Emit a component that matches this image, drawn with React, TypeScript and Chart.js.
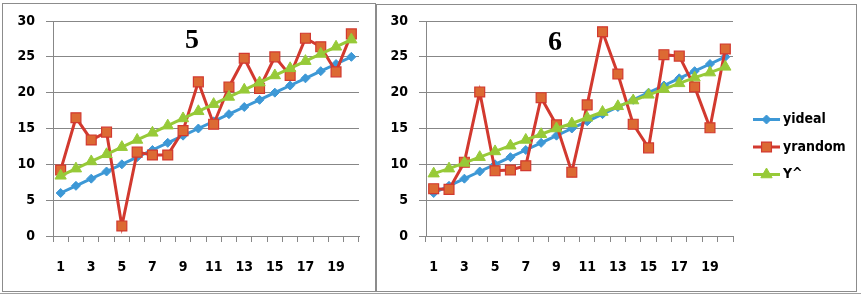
import React, { useEffect, useRef } from 'react';
import { Chart, registerables } from 'chart.js';

Chart.register(...registerables);

// ---- data ----
const categories = ['1', '2', '3', '4', '5', '6', '7', '8', '9', '10', '11', '12', '13', '14', '15', '16', '17', '18', '19', '20'];
const seriesNames = ['yideal', 'yrandom', 'Y^'];
const panelTitles = ['5', '6'];

const yIdeal5 = [6, 7, 8, 9, 10, 11, 12, 13, 14, 15, 16, 17, 18, 19, 20, 21, 22, 23, 24, 25];
const yRandom5 = [9.2, 16.5, 13.4, 14.5, 1.4, 11.7, 11.3, 11.3, 14.7, 21.5, 15.6, 20.8, 24.8, 20.6, 25.0, 22.4, 27.6, 26.4, 22.9, 28.2];
const yHat5 = [8.4, 9.4, 10.4, 11.4, 12.4, 13.4, 14.4, 15.4, 16.4, 17.4, 18.4, 19.4, 20.4, 21.4, 22.4, 23.4, 24.4, 25.4, 26.4, 27.4];

const yIdeal6 = [6, 7, 8, 9, 10, 11, 12, 13, 14, 15, 16, 17, 18, 19, 20, 21, 22, 23, 24, 25];
const yRandom6 = [6.6, 6.5, 10.3, 20.1, 9.1, 9.2, 9.8, 19.3, 15.5, 8.9, 18.3, 28.5, 22.6, 15.6, 12.3, 25.3, 25.1, 20.8, 15.1, 26.1];
const yHat6 = [8.7, 9.4, 10.2, 11.0, 11.8, 12.6, 13.4, 14.2, 15.0, 15.7, 16.5, 17.3, 18.1, 18.9, 19.7, 20.5, 21.3, 22.1, 22.8, 23.6];

const yMin = 0;
const yMax = 30;
const yStep = 5;

// ---- styles ----
const BLUE = '#3d98d6';
const RED = '#d2392f';
const ORANGE = '#dc6a33';
const GREEN = '#97ca38';
const GRID = '#878787';
const FONT = "'DejaVu Sans Condensed', 'DejaVu Sans', sans-serif";

function makeDatasets(ideal: number[], random: number[], hat: number[]) {
  return [
    {
      label: seriesNames[0],
      data: ideal,
      borderColor: BLUE,
      backgroundColor: BLUE,
      pointBackgroundColor: BLUE,
      pointBorderColor: BLUE,
      pointStyle: 'rectRot',
      pointRadius: 4.5,
      pointBorderWidth: 1,
      borderWidth: 3,
      order: 3,
    },
    {
      label: seriesNames[1],
      data: random,
      borderColor: RED,
      backgroundColor: ORANGE,
      pointBackgroundColor: ORANGE,
      pointBorderColor: RED,
      pointStyle: 'rect',
      pointRadius: 7,
      pointBorderWidth: 1.2,
      borderWidth: 3,
      order: 2,
    },
    {
      label: seriesNames[2],
      data: hat,
      borderColor: GREEN,
      backgroundColor: GREEN,
      pointBackgroundColor: GREEN,
      pointBorderColor: GREEN,
      pointStyle: 'triangle',
      pointRadius: 6.5,
      pointBorderWidth: 1,
      borderWidth: 3,
      order: 1,
    },
  ];
}

const titlePlugin = {
  id: 'panelTitle',
  afterDraw(chart: any, _args: any, opts: any) {
    if (!opts || !opts.text) return;
    const ctx = chart.ctx;
    ctx.save();
    ctx.font = "bold 28px 'Liberation Serif', 'Times New Roman', serif";
    ctx.fillStyle = '#000';
    ctx.textAlign = 'center';
    ctx.textBaseline = 'alphabetic';
    ctx.fillText(opts.text, opts.x, opts.y);
    ctx.restore();
  },
};

function drawMarker(ctx: CanvasRenderingContext2D, style: string, r: number, x: number, y: number) {
  ctx.beginPath();
  if (style === 'rect') {
    const s = Math.SQRT1_2 * r;
    ctx.rect(x - s, y - s, 2 * s, 2 * s);
  } else if (style === 'rectRot') {
    ctx.moveTo(x - r, y);
    ctx.lineTo(x, y - r);
    ctx.lineTo(x + r, y);
    ctx.lineTo(x, y + r);
    ctx.closePath();
  } else {
    ctx.moveTo(x, y - r);
    ctx.lineTo(x + r * 0.866, y + r * 0.5);
    ctx.lineTo(x - r * 0.866, y + r * 0.5);
    ctx.closePath();
  }
  ctx.fill();
  ctx.stroke();
}

const legendPlugin = {
  id: 'sideLegend',
  afterDraw(chart: any, _args: any, opts: any) {
    if (!opts || !opts.show) return;
    const ctx = chart.ctx;
    const right = chart.chartArea.right;
    const cy = chart.height / 2;
    const gap = 27.5;
    chart.data.datasets.forEach((ds: any, i: number) => {
      const y = cy + (i - 1) * gap;
      const x0 = right + 20;
      const x1 = right + 47;
      ctx.save();
      ctx.strokeStyle = ds.borderColor;
      ctx.lineWidth = 3;
      ctx.beginPath();
      ctx.moveTo(x0, y);
      ctx.lineTo(x1, y);
      ctx.stroke();
      ctx.fillStyle = ds.pointBackgroundColor;
      ctx.strokeStyle = ds.pointBorderColor;
      ctx.lineWidth = ds.pointBorderWidth;
      drawMarker(ctx, ds.pointStyle, ds.pointRadius, (x0 + x1) / 2, y);
      ctx.font = `bold 14px ${FONT}`;
      ctx.fillStyle = '#000';
      ctx.textAlign = 'left';
      ctx.textBaseline = 'middle';
      ctx.fillText(ds.label, right + 50, y);
      ctx.restore();
    });
  },
};

function makeOptions(yAxisWidth: number, padRight: number, title: any, showLegend: boolean) {
  return {
    responsive: false,
    animation: false,
    layout: { padding: { top: 21, right: padRight, bottom: 0, left: 0 } },
    plugins: {
      legend: { display: false },
      tooltip: { enabled: false },
      title: { display: false },
      panelTitle: title,
      sideLegend: { show: showLegend },
    },
    scales: {
      x: {
        type: 'category',
        offset: true,
        grid: {
          offset: true,
          drawOnChartArea: false,
          drawTicks: true,
          tickLength: 6,
          color: GRID,
          lineWidth: 1,
        },
        border: { display: true, color: GRID, width: 1 },
        ticks: {
          autoSkip: false,
          maxRotation: 0,
          minRotation: 0,
          padding: 17,
          color: '#000',
          font: { family: FONT, size: 14, weight: 'bold' },
          callback: (_v: any, i: number) => (i % 2 === 0 ? categories[i] : ''),
        },
        afterFit: (scale: any) => {
          scale.height = 58;
        },
      },
      y: {
        min: yMin,
        max: yMax,
        grid: {
          color: GRID,
          lineWidth: 1,
          drawTicks: true,
          tickLength: 7,
        },
        border: { display: true, color: GRID, width: 1 },
        ticks: {
          stepSize: yStep,
          padding: 11,
          color: '#000',
          font: { family: FONT, size: 14, weight: 'bold' },
        },
        afterFit: (scale: any) => {
          scale.width = yAxisWidth;
        },
      },
    },
  };
}

function Panel(props: {
  left: number;
  width: number;
  ideal: number[];
  random: number[];
  hat: number[];
  yAxisWidth: number;
  padRight: number;
  title: any;
  legend: boolean;
}) {
  const ref = useRef<HTMLCanvasElement | null>(null);
  useEffect(() => {
    if (!ref.current) return;
    const chart = new Chart(ref.current, {
      type: 'line',
      data: {
        labels: categories,
        datasets: makeDatasets(props.ideal, props.random, props.hat) as any,
      },
      options: makeOptions(props.yAxisWidth, props.padRight, props.title, props.legend) as any,
      plugins: [titlePlugin, legendPlugin],
    });
    return () => chart.destroy();
  }, []);
  return (
    <canvas
      ref={ref}
      width={props.width}
      height={294}
      style={{ position: 'absolute', left: props.left, top: 0, width: props.width, height: 294 }}
    />
  );
}

export default function App() {
  return (
    <div style={{ position: 'fixed', left: 0, top: 0, width: 861, height: 294, background: '#fff', overflow: 'hidden' }}>
      <Panel
        left={0}
        width={376}
        ideal={yIdeal5}
        random={yRandom5}
        hat={yHat5}
        yAxisWidth={53}
        padRight={17}
        title={{ text: panelTitles[0], x: 192, y: 48 }}
        legend={false}
      />
      <Panel
        left={376}
        width={481}
        ideal={yIdeal6}
        random={yRandom6}
        hat={yHat6}
        yAxisWidth={50}
        padRight={124}
        title={{ text: panelTitles[1], x: 179, y: 50 }}
        legend={true}
      />
      <div style={{ position: 'absolute', left: 2, top: 3, width: 374, height: 289, boxSizing: 'border-box', border: '1px solid #8c8c8c' }} />
      <div style={{ position: 'absolute', left: 376, top: 4, width: 481, height: 288, boxSizing: 'border-box', border: '1px solid #8c8c8c' }} />
      <div style={{ position: 'absolute', left: 0, top: 293, width: 861, height: 1, background: '#a0a0a0' }} />
    </div>
  );
}
